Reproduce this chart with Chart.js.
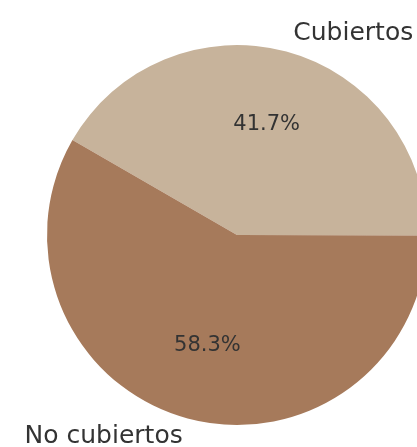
<!DOCTYPE html>
<html>
<head>
<meta charset="utf-8">
<script src="https://cdn.jsdelivr.net/npm/chart.js@4"></script>
<style>
html,body{margin:0;padding:0;background:#fff;overflow:hidden;width:417px;height:447px;}
canvas{display:block;}
</style>
</head>
<body>
<canvas id="c" width="474" height="470"></canvas>
<script>
const categories = ["Cubiertos", "No cubiertos"];
const values = [41.7, 58.3];
const colors = ["#c7b39b", "#a67a5b"];

const labelPlugin = {
  id: 'pieLabels',
  afterDraw(chart) {
    const ctx = chart.ctx;
    const meta = chart.getDatasetMeta(0);
    const total = values.reduce((a, b) => a + b, 0);
    meta.data.forEach((arc, i) => {
      const p = arc.getProps(['x', 'y', 'startAngle', 'endAngle', 'outerRadius'], true);
      const mid = (p.startAngle + p.endAngle) / 2;
      const cx = Math.cos(mid), cy = Math.sin(mid);
      ctx.save();
      ctx.fillStyle = '#333333';
      ctx.textBaseline = 'middle';
      // percentage
      ctx.font = '21px "DejaVu Sans"';
      ctx.textAlign = 'center';
      const pct = (values[i] / total * 100).toFixed(1) + '%';
      ctx.fillText(pct, p.x + cx * p.outerRadius * 0.6, p.y + cy * p.outerRadius * 0.6);
      // category label
      ctx.font = '25px "DejaVu Sans"';
      const lx = p.x + cx * p.outerRadius * 1.1 + (cx >= 0 ? 2 : 0);
      const ly = p.y + cy * p.outerRadius * 1.1;
      ctx.textAlign = cx >= 0 ? 'left' : 'right';
      ctx.fillText(categories[i], lx, ly);
      ctx.restore();
    });
  }
};

new Chart(document.getElementById('c'), {
  type: 'pie',
  data: {
    labels: categories,
    datasets: [{
      data: values,
      backgroundColor: colors,
      borderWidth: 0,
      radius: 190
    }]
  },
  options: {
    responsive: false,
    animation: false,
    rotation: 300,
    layout: { padding: 0 },
    plugins: {
      legend: { display: false },
      tooltip: { enabled: false }
    }
  },
  plugins: [labelPlugin]
});
</script>
</body>
</html>
